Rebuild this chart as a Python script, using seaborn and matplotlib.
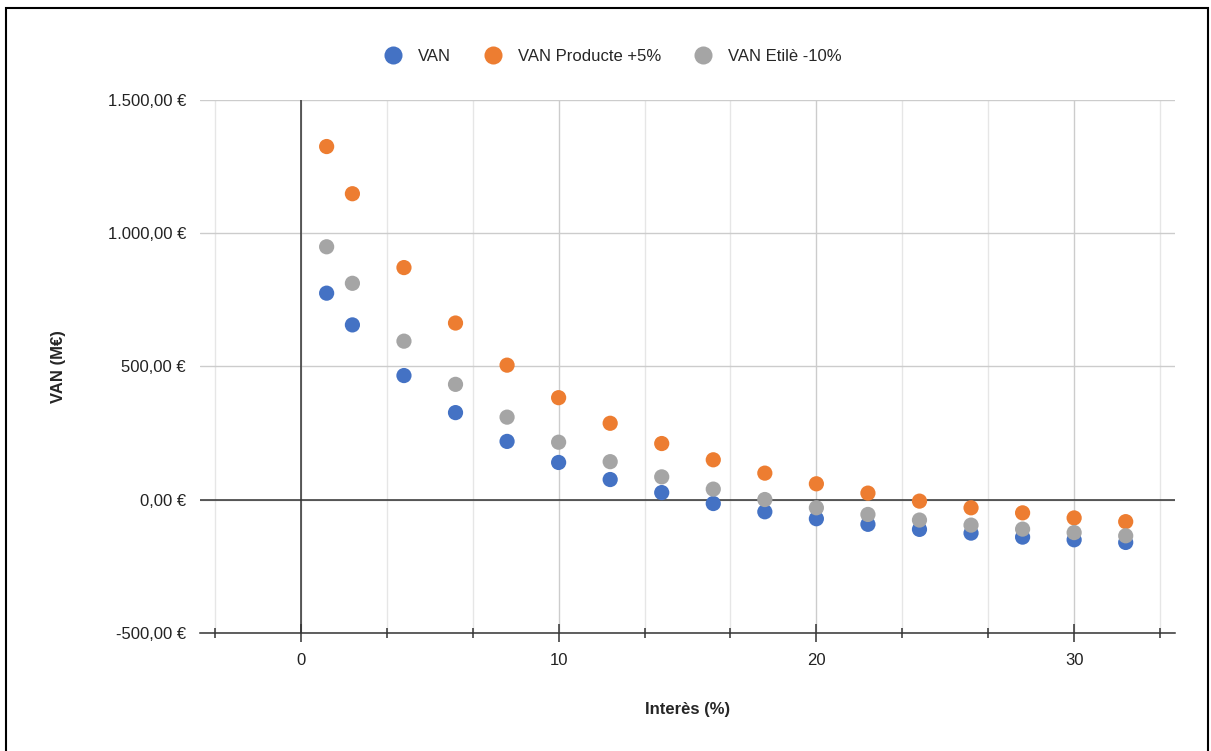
import numpy as np
import pandas as pd
import matplotlib.pyplot as plt
import seaborn as sns
from matplotlib.ticker import FuncFormatter, MultipleLocator
from matplotlib.lines import Line2D
from matplotlib.patches import Rectangle

# interest rates (%) and the three NPV series (M€)
interes = [1, 2, 4, 6, 8, 10, 12, 14, 16, 18, 20, 22, 24, 26, 28, 30, 32]
van = [775, 656, 466, 327, 219, 140, 76, 27, -14, -45, -71, -92, -111, -125, -140, -150, -160]
van_producte = [1325, 1148, 871, 663, 505, 383, 287, 211, 150, 100, 60, 25, -5, -30, -49, -68, -82]
van_etile = [949, 812, 595, 433, 310, 216, 143, 86, 40, 1, -30, -55, -76, -95, -110, -123, -135]

series_names = ["VAN", "VAN Producte +5%", "VAN Etilè -10%"]
colors = ["#4472c4", "#ed7d31", "#a5a5a5"]

df = pd.DataFrame({
    "x": interes * 3,
    "y": van + van_producte + van_etile,
    "serie": [series_names[0]] * len(interes) + [series_names[1]] * len(interes) + [series_names[2]] * len(interes),
})

sns.set_theme(style="white")
plt.rcParams["font.family"] = ["Liberation Sans", "DejaVu Sans"]

fig = plt.figure(figsize=(12.11, 7.51), dpi=100)
ax = fig.add_axes([0.165, 0.157, 0.805, 0.710])

sns.scatterplot(data=df, x="x", y="y", hue="serie", palette=colors,
                hue_order=series_names, s=120, edgecolor="none", legend=False,
                ax=ax, zorder=3)

ax.set_xlim(-3.92, 33.9)
ax.set_ylim(-500, 1500)

ax.xaxis.set_major_locator(MultipleLocator(10))
ax.xaxis.set_minor_locator(MultipleLocator(10 / 3))
ax.yaxis.set_major_locator(MultipleLocator(500))

def euro(v, pos):
    s = f"{abs(v):,.2f}".replace(",", "X").replace(".", ",").replace("X", ".")
    return ("-" if v < 0 else "") + s + " €"

ax.yaxis.set_major_formatter(FuncFormatter(euro))

ax.grid(which="major", axis="both", color="#cccccc", lw=1, zorder=0)
ax.grid(which="minor", axis="x", color="#e6e6e6", lw=1, zorder=0)
ax.set_axisbelow(True)

ax.axhline(0, color="#333333", lw=1.1, zorder=2)
ax.axvline(0, color="#333333", lw=1.1, zorder=2)

for side in ["top", "right", "left"]:
    ax.spines[side].set_visible(False)
ax.spines["bottom"].set_color("#333333")
ax.spines["bottom"].set_linewidth(1.1)

ax.tick_params(axis="x", which="major", direction="inout", length=13, width=1.1, bottom=True,
               color="#333333", labelsize=12, labelcolor="#222222", pad=8)
ax.tick_params(axis="x", which="minor", direction="inout", length=7, width=1.1,
               color="#333333", bottom=True)
ax.tick_params(axis="y", which="major", length=0, labelsize=12, labelcolor="#222222", pad=10)

ax.set_xlabel("Interès (%)", fontsize=12, fontweight="bold", labelpad=24)
ax.set_ylabel("VAN (M€)", fontsize=12, fontweight="bold", labelpad=30)

handles = [Line2D([0], [0], marker="o", color="none", markerfacecolor=c,
                  markeredgecolor="none", markersize=13) for c in colors]
fig.legend(handles, series_names, loc="center", bbox_to_anchor=(0.503, 0.925),
           ncol=3, frameon=False, fontsize=12, handletextpad=0.5, columnspacing=1.5)

fig.patches.append(Rectangle((6 / 1211, -0.01), 1202 / 1211, (751 - 8) / 751 + 0.01,
                             transform=fig.transFigure, fill=False,
                             edgecolor="black", lw=1.5))

fig.savefig("out.png", dpi=100)
